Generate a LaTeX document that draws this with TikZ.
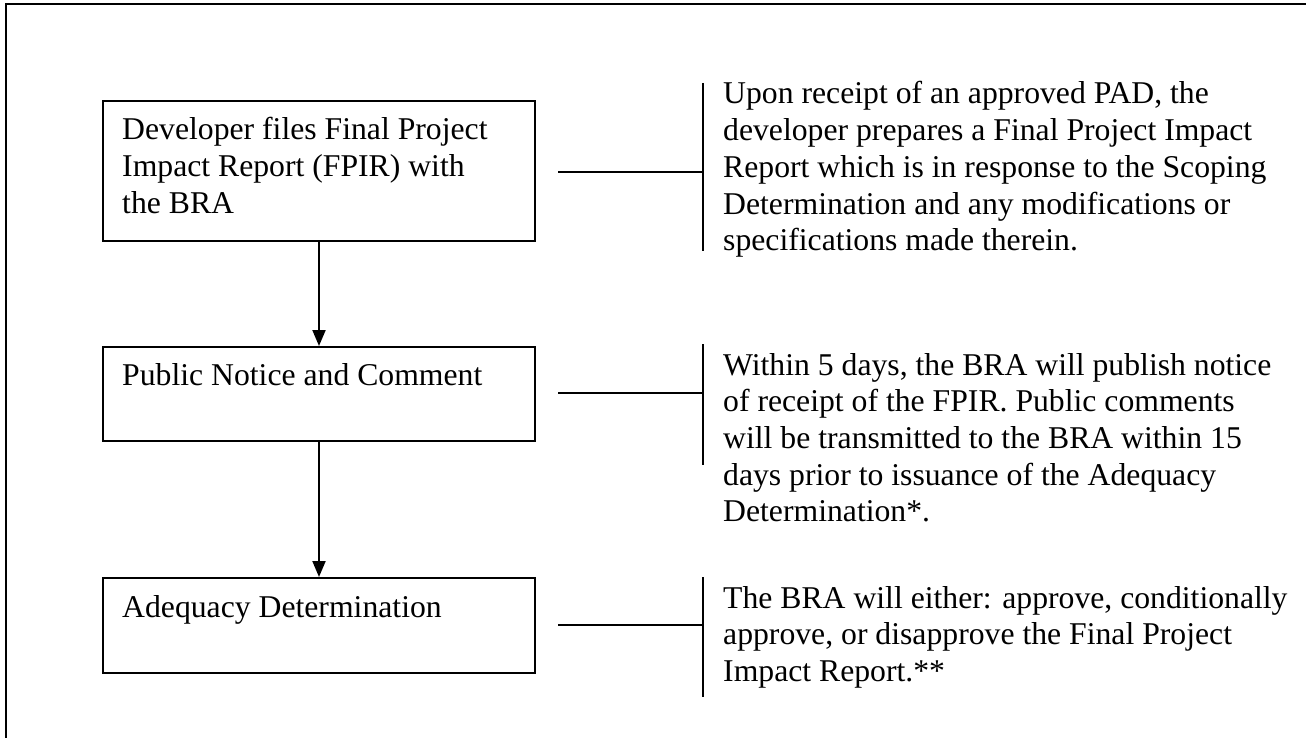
\documentclass[tikz,border=0pt]{standalone}
\usepackage{fontspec}
\setmainfont{Liberation Serif}
\usetikzlibrary{arrows.meta,calc}
\tikzset{
  stepbox/.style={draw=black, line width=2pt, rectangle, inner sep=0pt, minimum width=432pt},
  boxtext/.style={anchor=base west, inner sep=0pt, font=\fontsize{31.7}{36.7}\selectfont},
  note/.style={anchor=base west, inner sep=0pt, font=\fontsize{31.7}{36.7}\selectfont},
  flow/.style={line width=2pt, -{Triangle[length=16pt,width=13pt]}},
  callout/.style={line width=2pt},
  frameline/.style={line width=2.5pt}
}
\begin{document}
\begin{tikzpicture}[x=1pt,y=-1pt]
\useasboundingbox (0,0) rectangle (1306,738);
% outer frame (top and left edges)
\draw[frameline] (6,738) -- (6,4) -- (1306,4);

% step boxes
\node[stepbox, minimum height=140pt] (b1) at (319,171) {};
\node[stepbox, minimum height=94pt]  (b2) at (319,394) {};
\node[stepbox, minimum height=95pt]  (b3) at (319,625.5) {};

\node[boxtext] (t1) at ($(b1.north west)+(20,40)$) {\parbox[t]{420pt}{\raggedright Developer files Final Project\\Impact Report (FPIR) with\\the BRA}};
\node[boxtext] (t2) at ($(b2.north west)+(20,39)$) {Public Notice and Comment};
\node[boxtext] (t3) at ($(b3.north west)+(20,40)$) {Adequacy Determination};

% arrows
\draw[flow] (b1.south) -- (b2.north);
\draw[flow] (b2.south) -- (b3.north);

% callout brackets
\coordinate (h1) at (558,172);
\coordinate (k1t) at (703,83);
\coordinate (k1b) at (703,251);
\draw[callout] (h1) -- (h1 -| k1t);
\draw[callout] (k1t) -- (k1b);

\coordinate (h2) at (558,393);
\coordinate (k2t) at (703,344);
\coordinate (k2b) at (703,465);
\draw[callout] (h2) -- (h2 -| k2t);
\draw[callout] (k2t) -- (k2b);

\coordinate (h3) at (558,625);
\coordinate (k3t) at (703,577);
\coordinate (k3b) at (703,697);
\draw[callout] (h3) -- (h3 -| k3t);
\draw[callout] (k3t) -- (k3b);

% notes
\node[note] (n1) at (723,104) {\parbox[t]{580pt}{\raggedright Upon receipt of an approved PAD, the\\developer prepares a Final Project Impact\\Report which is in response to the Scoping\\Determination and any modifications or\\specifications made therein.}};
\node[note] (n2) at (723,375) {\parbox[t]{580pt}{\raggedright Within 5 days, the BRA will publish notice\\of receipt of the FPIR. Public comments\\will be transmitted to the BRA within 15\\days prior to issuance of the Adequacy\\Determination*.}};
\node[note] (n3) at (723,608) {\parbox[t]{580pt}{\raggedright The BRA will either: approve, conditionally\\approve, or disapprove the Final Project\\Impact Report.**}};
\end{tikzpicture}
\end{document}
